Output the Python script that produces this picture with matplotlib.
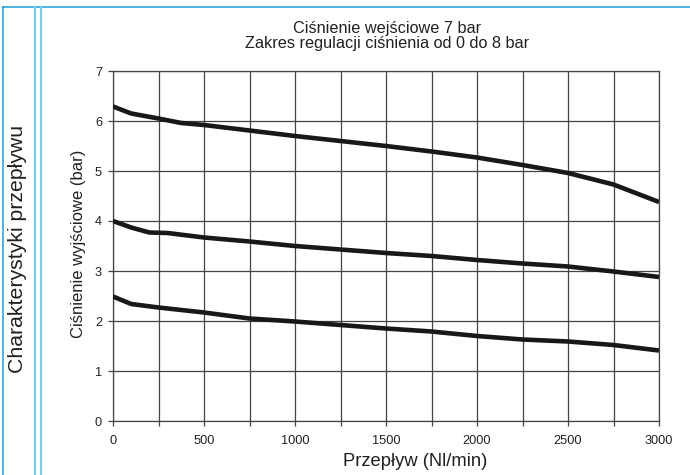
import matplotlib
matplotlib.use("Agg")
import matplotlib.pyplot as plt
from matplotlib.lines import Line2D
import numpy as np

plt.rcParams['font.family'] = ['Liberation Sans', 'DejaVu Sans']

# flow (Nl/min) and outlet pressure (bar)
flow_top = [0, 100, 250, 375, 500, 750, 1000, 1250, 1500, 1750, 2000, 2250, 2500, 2750, 3000]
p_top = [6.29, 6.15, 6.05, 5.96, 5.92, 5.81, 5.70, 5.60, 5.50, 5.39, 5.27, 5.12, 4.96, 4.73, 4.38]

flow_mid = [0, 100, 200, 300, 500, 750, 1000, 1250, 1500, 1750, 2000, 2250, 2500, 2750, 3000]
p_mid = [4.00, 3.87, 3.77, 3.76, 3.67, 3.59, 3.50, 3.43, 3.36, 3.30, 3.22, 3.15, 3.09, 2.99, 2.88]

flow_low = [0, 100, 250, 500, 750, 1000, 1250, 1500, 1750, 2000, 2250, 2500, 2750, 3000]
p_low = [2.49, 2.34, 2.27, 2.17, 2.05, 1.99, 1.92, 1.85, 1.79, 1.70, 1.63, 1.59, 1.52, 1.41]

title = "Ciśnienie wejściowe 7 bar\nZakres regulacji ciśnienia od 0 do 8 bar"
xlabel = "Przepływ (Nl/min)"
ylabel = "Ciśnienie wyjściowe (bar)"
side_label = "Charakterystyki przepływu"

fig = plt.figure(figsize=(6.9, 4.75), dpi=100)
ax = fig.add_axes([113 / 690, 1 - 421 / 475, 546 / 690, 350 / 475])

for xs, ys in [(flow_top, p_top), (flow_mid, p_mid), (flow_low, p_low)]:
    ax.plot(xs, ys, color='#1a1718', lw=3.3, solid_capstyle='butt', zorder=3)

ax.set_xlim(0, 3000)
ax.set_ylim(0, 7)
ax.set_xticks(np.arange(0, 3001, 500))
ax.set_xticks(np.arange(0, 3001, 250), minor=True)
ax.set_yticks(np.arange(0, 8, 1))
ax.grid(True, which='both', color='#444444', lw=0.9)
ax.tick_params(which='both', direction='out', length=3.6, width=0.9, color='#444444',
               labelsize=9.2, labelcolor='#231f20')
ax.tick_params(axis='x', pad=6.5)
ax.tick_params(axis='y', pad=4.3)
for s in ax.spines.values():
    s.set_color('#444444')
    s.set_linewidth(0.9)

fig.text(79 / 690, 1 - 244 / 475, ylabel, rotation=90, fontsize=12, color='#231f20',
         ha='center', va='center')
fig.text(415 / 690, 1 - 462 / 475, xlabel, fontsize=13.2, color='#231f20',
         ha='center', va='center')
fig.text(387 / 690, 1 - 36 / 475, title, fontsize=11.7, color='#231f20',
         ha='center', va='center', linespacing=1.05)

fig.text(18 / 690, 1 - 249 / 475, side_label, rotation=90, fontsize=15.3,
         color='#231f20', ha='center', va='center')

# blue frame lines
top = 1 - 7 / 475
fig.add_artist(Line2D([3.3 / 690, 1], [top, top], color='#1e9bd7', lw=1.1))
fig.add_artist(Line2D([3.3 / 690] * 2, [0, top], color='#1e9bd7', lw=1.1))
for xp in [34.7, 40.7]:
    fig.add_artist(Line2D([xp / 690] * 2, [0, top], color='#7ccaee', lw=1.6))

fig.savefig("out.png", dpi=100)
